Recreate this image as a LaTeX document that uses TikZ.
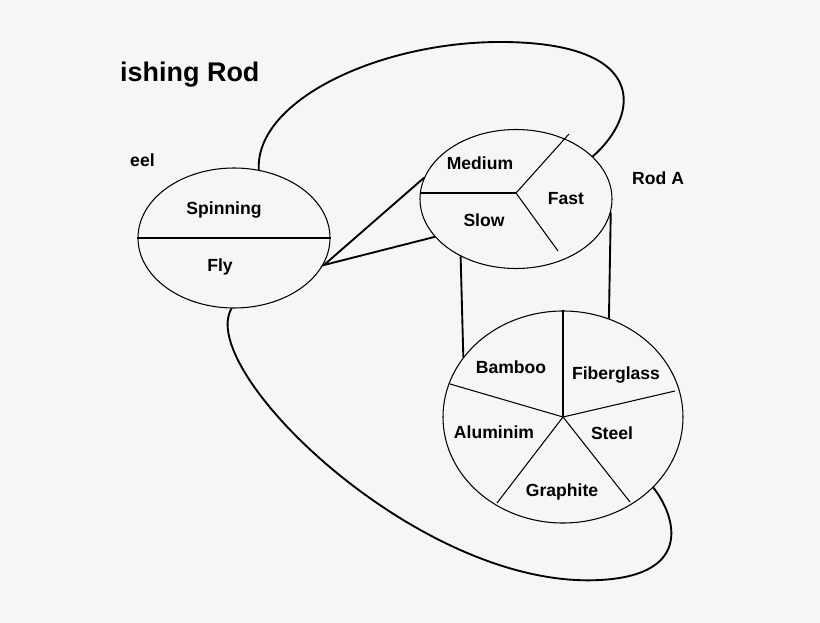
\documentclass[tikz,border=0pt]{standalone}
\usepackage{fontspec}
\setmainfont{Liberation Sans}
\usetikzlibrary{shapes.geometric, positioning}
\definecolor{paper}{HTML}{F6F6F6}

\begin{document}
\begin{tikzpicture}[
                x=0.3mm, y=-0.3mm,
                every node/.style={font=\bfseries\fontsize{15}{17}\selectfont},
                oval/.style={draw, line width=0.9pt, ellipse, inner sep=0pt},
                part/.style={line width=0.9pt},
                link/.style={line width=1.6pt},
                label/.style={inner sep=0pt}]

            \fill[paper] (0,0) rectangle (820,623);

            % Ovale
            \node[oval, minimum width=57.6mm, minimum height=42mm] (kind) at (234,238) {};
            \node[oval, minimum width=57.6mm, minimum height=41.7mm] (action) at (516,199) {};
            \node[oval, minimum width=72mm, minimum height=63.6mm] (material) at (563,417) {};

            % Teilung
            \draw[part] (kind.west) -- (kind.east);
            \coordinate (ac) at (516,193);
            \draw[part] (ac) -- (421,193);
            \draw[part] (ac) -- (569,134);
            \draw[part] (ac) -- (558,251);
            \draw[part] (material.center) -- (material.north);
            \draw[part] (material.center) -- (450,384);
            \draw[part] (material.center) -- (675,391);
            \draw[part] (material.center) -- (497,503);
            \draw[part] (material.center) -- (630,502);

            % Texte
            \node[label] (spinning) at (224,210) {Spinning};
            \node[label] (fly) at (220,267) {Fly};
            \node[label] (medium) at (480,163) {Medium};
            \node[label] (fast) at (566,199) {Fast};
            \node[label] (slow) at (484,220) {Slow};
            \node[label] (bamboo) at (511,367) {Bamboo};
            \node[label] (fiberglass) at (616,375) {Fiberglass};
            \node[label] (aluminim) at (494,432) {Aluminim};
            \node[label] (steel) at (612,433) {Steel};
            \node[label] (graphite) at (562,492) {Graphite};
            \node[label, anchor=west, font=\bfseries\fontsize{23}{26}\selectfont] (title) at (120,75) {ishing Rod};
            \node[label, anchor=west] (reel) at (130,160) {eel};
            \node[label, anchor=west] (rodact) at (632,178) {Rod A};

            % Verbindungen
            \coordinate (flytip) at (324,265);
            \draw[link] (action.167) -- (flytip) -- (action.205);
            \draw[link] (action.-134) -- (material.149);
            \draw[link] (action.-8) -- (material.65);
            \draw[link] (kind.70) .. controls (255,100) and (380,42) .. (500,42)
                                   .. controls (650,42) and (640,115) .. (action.29);
            \draw[link] (kind.-92) .. controls (195,370) and (420,590) .. (600,580)
                                   .. controls (695,575) and (675,515) .. (material.-38);

        \end{tikzpicture}
\end{document}
